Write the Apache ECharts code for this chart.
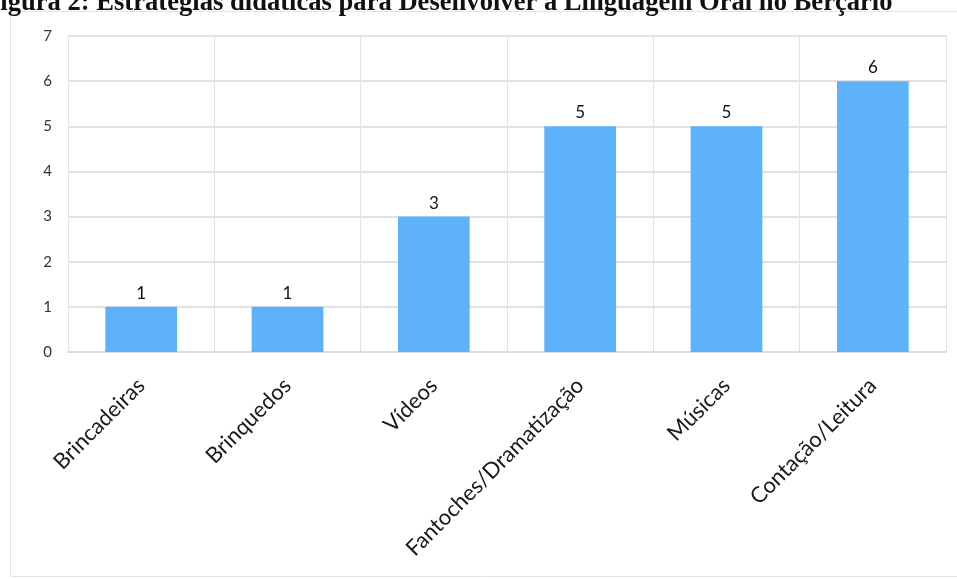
<!DOCTYPE html>
<html lang="pt">
<head>
    <meta charset="UTF-8">
    <title>Figura 2</title>
    <style>
        html, body {
            margin: 0;
            padding: 0;
            background: #ffffff;
        }
        #chart {
            width: 957px;
            height: 579px;
        }
    </style>
    <script src="https://cdn.jsdelivr.net/npm/echarts@6/dist/echarts.min.js"></script>
</head>
<body>
    <div id="chart"></div>
    <script>
        // dados
        var categorias = ['Brincadeiras', 'Brinquedos', 'Vídeos', 'Fantoches/Dramatização', 'Músicas', 'Contação/Leitura'];
        var valores = [1, 1, 3, 5, 5, 6];
        var titulo = 'Figura 2: Estratégias didáticas para Desenvolver a Linguagem Oral no Berçário';

        var chart = echarts.init(document.getElementById('chart'));

        var option = {
            animation: false,
            graphic: [
                {
                    type: 'rect',
                    shape: { x: 10.5, y: 11.5, width: 960, height: 565 },
                    style: { fill: 'none', stroke: '#e4e4e4', lineWidth: 1 },
                    silent: true
                },
                {
                    type: 'text',
                    left: -16,
                    top: -10,
                    style: {
                        text: titulo,
                        font: 'bold 26.6px "Liberation Serif", "Times New Roman", serif',
                        fill: '#111111'
                    }
                }
            ],
            grid: {
                left: 68,
                right: 11,
                top: 36,
                bottom: 227,
                containLabel: false
            },
            xAxis: {
                type: 'category',
                data: categorias,
                axisLine: { show: true, lineStyle: { color: '#dcdcdc', width: 2 } },
                axisTick: { show: false },
                splitLine: { show: true, lineStyle: { color: '#e2e2e2', width: 1 } },
                axisLabel: {
                    rotate: 45,
                    interval: 0,
                    margin: 30,
                    color: '#1a1a1a',
                    fontFamily: 'Lato, sans-serif',
                    fontSize: 22
                }
            },
            yAxis: {
                type: 'value',
                min: 0,
                max: 7,
                interval: 1,
                axisLine: { show: false },
                axisTick: { show: false },
                splitLine: { lineStyle: { color: '#e2e2e2', width: 2 } },
                axisLabel: {
                    margin: 16,
                    color: '#333333',
                    fontFamily: 'Lato, sans-serif',
                    fontSize: 15
                }
            },
            series: [
                {
                    type: 'bar',
                    data: valores,
                    barWidth: '49%',
                    itemStyle: { color: '#5eb2fc' },
                    label: {
                        show: true,
                        position: 'top',
                        distance: 5,
                        color: '#111111',
                        fontFamily: 'Lato, sans-serif',
                        fontSize: 17
                    }
                }
            ]
        };

        chart.setOption(option);
    </script>
</body>
</html>
